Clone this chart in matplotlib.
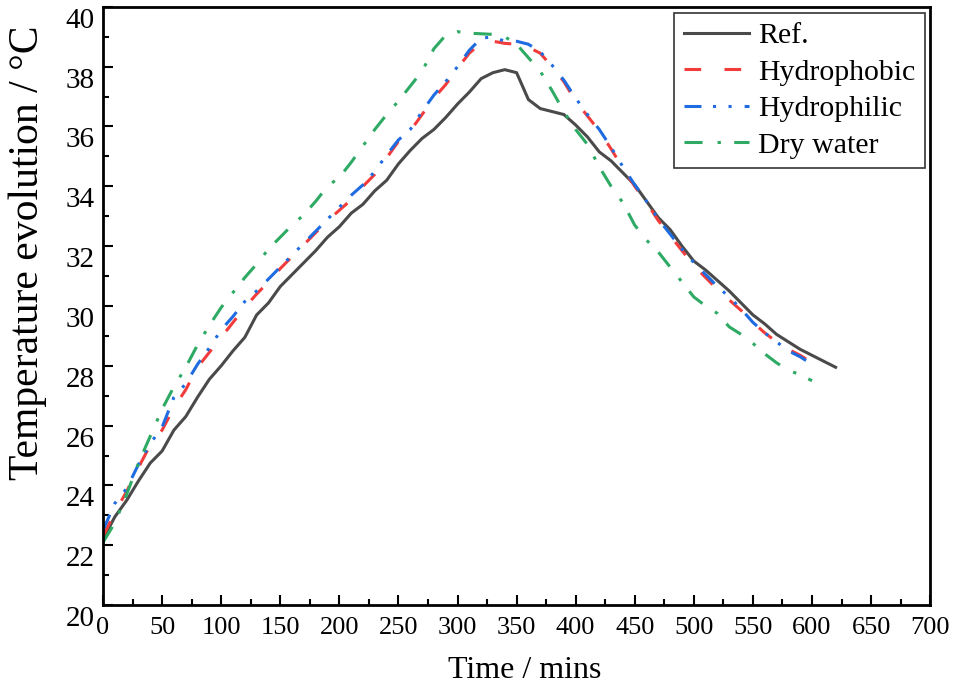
import matplotlib
matplotlib.use("Agg")
import matplotlib.pyplot as plt
from matplotlib.ticker import MultipleLocator
from matplotlib.transforms import ScaledTranslation

plt.rcParams['font.family'] = ['Liberation Serif', 'DejaVu Serif']
plt.rcParams['lines.scale_dashes'] = False

# Sampling times (minutes)
time_ref = list(range(0, 621, 10))
time_samples = list(range(0, 601, 10))

temp_ref = [22.2, 22.95, 23.5, 24.15, 24.75, 25.15, 25.85, 26.3, 26.95, 27.55,
            28.0, 28.5, 28.95, 29.7, 30.1, 30.65, 31.05, 31.45, 31.85, 32.3,
            32.65, 33.1, 33.4, 33.85, 34.2, 34.75, 35.2, 35.6, 35.9, 36.3,
            36.75, 37.15, 37.6, 37.8, 37.9, 37.8, 36.9, 36.6, 36.5, 36.4,
            36.05, 35.65, 35.15, 34.85, 34.45, 34.05, 33.5, 32.95, 32.55, 32.0,
            31.5, 31.2, 30.85, 30.5, 30.1, 29.7, 29.4, 29.05, 28.8, 28.55,
            28.35, 28.15, 27.95]

temp_hydrophobic = [22.3, 23.1, 23.8, 24.6, 25.35, 25.85, 26.6, 27.2, 27.95, 28.45,
                    28.95, 29.45, 29.95, 30.4, 30.8, 31.25, 31.65, 32.05, 32.45, 32.85,
                    33.2, 33.55, 34.0, 34.4, 34.95, 35.5, 35.85, 36.4, 36.95, 37.4,
                    37.95, 38.45, 38.8, 38.85, 38.78, 38.75, 38.65, 38.45, 38.0, 37.5,
                    36.85, 36.35, 35.85, 35.25, 34.6, 34.0, 33.45, 32.85, 32.35, 31.85,
                    31.35, 30.95, 30.55, 30.2, 29.85, 29.45, 29.1, 28.8, 28.55, 28.35,
                    28.1]

temp_hydrophilic = [22.5, 23.4, 23.9, 24.7, 25.4, 25.95, 26.95, 27.4, 28.05, 28.6,
                    29.2, 29.65, 30.15, 30.5, 30.9, 31.3, 31.7, 32.1, 32.5, 32.9,
                    33.3, 33.7, 34.05, 34.5, 35.05, 35.55, 35.9, 36.5, 37.05, 37.5,
                    38.0, 38.55, 38.95, 39.0, 38.85, 38.85, 38.75, 38.5, 38.05, 37.55,
                    36.95, 36.4, 35.9, 35.3, 34.65, 34.05, 33.5, 32.9, 32.4, 31.9,
                    31.45, 31.05, 30.65, 30.3, 29.9, 29.45, 29.1, 28.8, 28.5, 28.3,
                    28.05]

temp_dry_water = [22.1, 22.75, 23.7, 24.75, 25.65, 26.55, 27.3, 27.95, 28.7, 29.35,
                  29.95, 30.45, 30.95, 31.4, 31.9, 32.3, 32.7, 33.05, 33.5, 34.0,
                  34.3, 34.8, 35.35, 35.9, 36.4, 36.85, 37.35, 37.85, 38.6, 39.05,
                  39.17, 39.12, 39.1, 39.08, 39.0, 38.75, 38.3, 37.85, 37.2, 36.5,
                  35.9, 35.4, 34.65, 34.0, 33.45, 32.7, 32.2, 31.8, 31.3, 30.8,
                  30.3, 30.0, 29.75, 29.3, 29.05, 28.75, 28.4, 28.1, 27.85, 27.7,
                  27.5]

series_labels = ['Ref.', 'Hydrophobic', 'Hydrophilic', 'Dry water']

fig = plt.figure(figsize=(9.54, 6.86), dpi=100)
ax = fig.add_axes([0.108, 0.118, 0.867, 0.872])

lw = 2.2
ax.plot(time_ref, temp_ref, color='#4a4a4a', lw=lw, label=series_labels[0],
        solid_joinstyle='round')
ax.plot(time_samples, temp_hydrophobic, color='#f23c3c', lw=lw,
        dashes=(12, 16.8), label=series_labels[1])
ax.plot(time_samples, temp_hydrophilic, color='#1f6be0', lw=lw,
        dashes=(12.2, 8.3, 2.2, 9.0, 2.2, 9.4), label=series_labels[2])
ax.plot(time_samples, temp_dry_water, color='#2eaa64', lw=lw,
        dashes=(13, 10.8, 2.4, 9.6), label=series_labels[3])

ax.set_xlim(0, 700)
ax.set_ylim(20, 40)
ax.xaxis.set_major_locator(MultipleLocator(50))
ax.xaxis.set_minor_locator(MultipleLocator(25))
ax.yaxis.set_major_locator(MultipleLocator(2))
ax.yaxis.set_minor_locator(MultipleLocator(1))

ax.tick_params(which='both', direction='in', top=False, right=False,
               width=1.5, color='black')
ax.tick_params(which='major', length=7.5)
ax.tick_params(which='minor', length=4)
ax.tick_params(axis='x', labelsize=19, pad=8.5)
ax.tick_params(axis='y', labelsize=21, pad=6)

# y tick labels sit slightly below their ticks
drop = ScaledTranslation(0, -0.11, fig.dpi_scale_trans)
for tick in ax.yaxis.get_major_ticks():
    tick.label1.set_transform(tick.label1.get_transform() + drop)

for spine in ax.spines.values():
    spine.set_linewidth(2.0)
    spine.set_color('black')

ax.set_xlabel('Time / mins', fontsize=23)
ax.xaxis.set_label_coords(0.51, -0.085)
ax.set_ylabel('Temperature evolution / °C', fontsize=30)
ax.yaxis.set_label_coords(-0.0675, 0.589)

leg = ax.legend(loc='upper right', bbox_to_anchor=(0.994, 0.99),
                borderaxespad=0, fontsize=21.5, frameon=True, fancybox=False,
                handlelength=2.2, handletextpad=0.3, labelspacing=0.32,
                borderpad=0.32)
leg.get_frame().set_edgecolor('black')
leg.get_frame().set_linewidth(1.2)

fig.savefig('out.png', dpi=100)
